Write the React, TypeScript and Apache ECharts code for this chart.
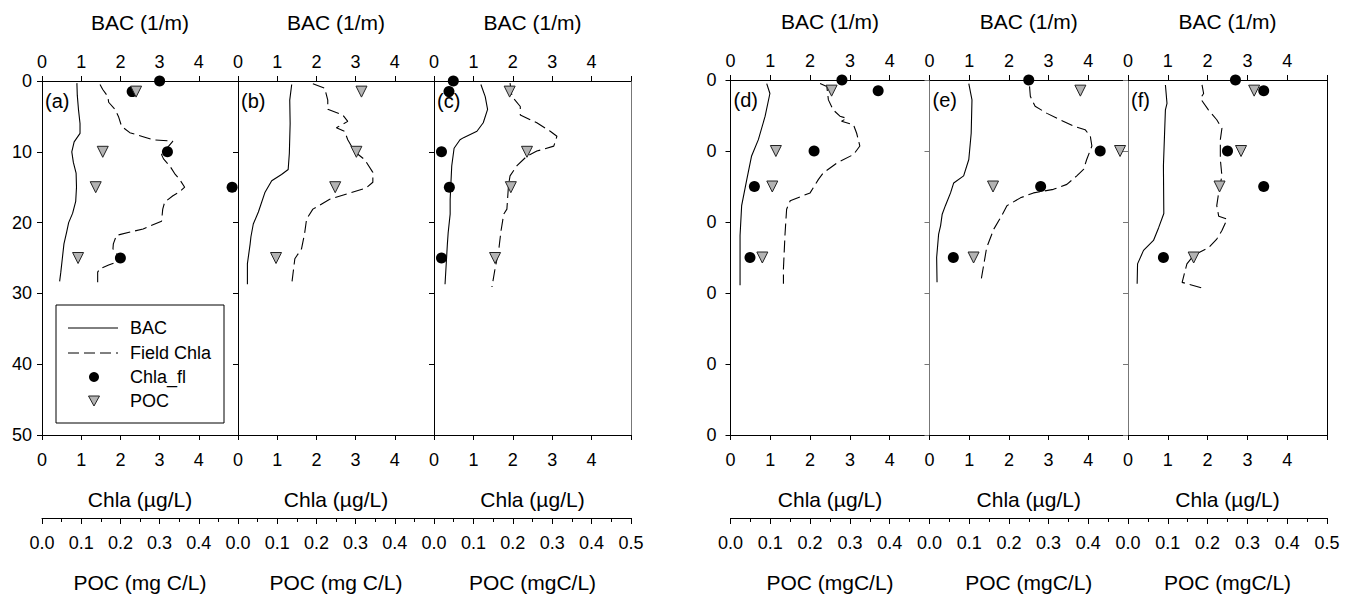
import React, { useEffect, useRef } from 'react';
import * as echarts from 'echarts';

// ---------- tick labels ----------
const chlaTickLabels = ['0', '1', '2', '3', '4', ''];
const pocTickLabels = ['0.0', '0.1', '0.2', '0.3', '0.4', '0.5'];
const depthTickLabels = ['0', '10', '20', '30', '40', '50'];
const panelIds = ['(a)', '(b)', '(c)', '(d)', '(e)', '(f)'];
const legendNames = ['BAC', 'Field Chla', 'Chla_fl', 'POC'];
const topTitle = 'BAC (1/m)';
const chlaTitle = 'Chla (\u00b5g/L)';
const pocTitles = ['POC (mg C/L)', 'POC (mg C/L)', 'POC (mgC/L)', 'POC (mgC/L)', 'POC (mgC/L)', 'POC (mgC/L)'];

// ---------- data: [value, depth (m)] ----------
const bacA = [[0.89,0.3],[0.9,2],[0.93,4],[0.97,6],[0.97,7.4],[0.82,8.6],[0.76,10],[0.8,11.5],[0.87,13],[0.88,15],[0.86,17],[0.78,18.7],[0.68,20],[0.63,21.3],[0.56,23],[0.52,25],[0.48,27],[0.45,28.3]];
const chlaA = [[1.48,0.5],[1.55,1.2],[1.68,2.2],[1.7,3],[1.86,4],[1.95,5],[2.03,6.4],[2.24,7.3],[2.6,7.9],[2.83,8.3],[3.34,8.5],[3.05,10.4],[3.1,11],[3.26,12],[3.4,13.2],[3.51,13.9],[3.64,15],[3.5,15.7],[3.34,16.2],[3.13,17.1],[3.08,18.1],[3.05,19.8],[2.58,20.9],[1.9,21.8],[1.82,23],[1.81,23.7],[2.03,25.3],[1.7,26],[1.48,26.5],[1.42,27],[1.42,28.9]];
const flA = [[3.0,0],[2.3,1.5],[3.2,10],[4.85,15],[2.0,25]];
const pocA = [[0.24,1.5],[0.155,10],[0.137,15],[0.092,25]];

const bacB = [[1.37,0.5],[1.32,2.7],[1.33,6],[1.31,10.2],[1.28,12.5],[1.11,13.2],[0.86,14.1],[0.69,15.7],[0.52,18.5],[0.39,20.2],[0.33,22],[0.31,23],[0.24,25.8],[0.24,28.7]];
const chlaB = [[1.91,0.4],[2.21,1],[2.29,2.7],[2.29,4],[2.67,4.8],[2.8,5.7],[2.51,6.6],[2.72,7.1],[2.8,8.3],[2.98,10],[3.23,11.1],[3.44,12.9],[3.44,14.3],[3.27,15.1],[2.34,16.7],[1.91,18.1],[1.75,19.5],[1.7,21.5],[1.62,23.7],[1.45,25.1],[1.37,28.7]];
const flB: number[][] = [];
const pocB = [[0.315,1.5],[0.302,10],[0.248,15],[0.097,25]];

const bacC = [[1.19,0.5],[1.3,2.2],[1.36,4],[1.25,5.9],[1.09,7.1],[0.75,8],[0.66,8.3],[0.51,9.5],[0.45,12],[0.41,16.7],[0.41,18.8],[0.36,21.4],[0.34,23],[0.28,28.7]];
const chlaC = [[1.93,0.3],[1.98,2.2],[2.19,3.6],[2.19,4.8],[2.61,5.9],[2.95,7.1],[3.12,7.8],[3.04,9.2],[2.61,9.9],[2.36,10.6],[2.1,12],[1.93,13.4],[1.89,14.8],[1.85,18.1],[1.77,18.8],[1.7,21.2],[1.64,24],[1.55,26.5],[1.47,29.1]];
const flC = [[0.49,0],[0.38,1.5],[0.19,10],[0.39,15],[0.19,25]];
const pocC = [[0.192,1.5],[0.236,10],[0.195,15],[0.155,25]];

const bacD = [[0.91,0.5],[0.99,1.9],[0.87,5.1],[0.7,8.4],[0.53,10.7],[0.41,14],[0.28,17.7],[0.24,21.9],[0.24,24.3],[0.24,28.9]];
const chlaD = [[2.25,0.5],[2.42,0.9],[2.46,2.8],[2.58,4.2],[2.75,5.1],[2.92,5.4],[2.79,5.8],[3.09,6.3],[3.17,7.5],[3.25,9.3],[3.09,10.5],[2.67,11.7],[2.33,13.1],[2.21,14],[2.0,15.9],[1.5,17],[1.41,18.2],[1.37,21.7],[1.33,26.6],[1.33,28.7]];
const flD = [[2.8,0],[3.71,1.5],[2.1,10],[0.6,15],[0.49,25]];
const pocD = [[0.254,1.5],[0.114,10],[0.105,15],[0.08,25]];

const bacE = [[0.99,0.5],[1.07,2.8],[1.05,7.5],[0.99,11.2],[0.86,13.5],[0.61,14.5],[0.53,15.9],[0.4,17.7],[0.32,18.9],[0.28,20.5],[0.23,21.7],[0.18,25],[0.19,28.5]];
const chlaE = [[2.52,0.9],[2.54,2.3],[2.66,3.7],[2.96,4.7],[3.29,5.6],[3.63,6.5],[3.92,7],[4.05,7.9],[4.09,9.3],[3.96,11.2],[3.88,12.6],[3.71,13.5],[3.46,14.7],[3.12,15.4],[2.62,15.9],[2.29,16.6],[1.95,17.7],[1.82,19.1],[1.62,21],[1.44,23.6],[1.37,25.9],[1.29,28.5]];
const flE = [[2.5,0],[4.3,10],[2.8,15],[0.6,25]];
const pocE = [[0.38,1.5],[0.48,10],[0.16,15],[0.111,25]];

const bacF = [[0.94,0.7],[0.98,3.3],[0.94,4.2],[0.89,12.1],[0.9,18.8],[0.77,20.8],[0.64,22.6],[0.39,24],[0.24,25.9],[0.23,28.7]];
const chlaF = [[1.86,0.7],[1.9,1.9],[1.82,2.6],[2.02,4.2],[2.23,5.6],[2.36,6.8],[2.32,8.4],[2.32,11.2],[2.36,13.5],[2.28,15.8],[2.23,17.7],[2.28,19.2],[2.49,19.6],[2.36,21.2],[2.23,22.4],[2.03,23.6],[1.65,24.7],[1.48,25.9],[1.36,28.5],[1.86,29.3]];
const flF = [[2.7,0],[3.41,1.5],[2.5,10],[3.41,15],[0.89,25]];
const pocF = [[0.317,1.5],[0.284,10],[0.23,15],[0.165,25]];

const panelData = [
  { bac: bacA, chla: chlaA, fl: flA, poc: pocA },
  { bac: bacB, chla: chlaB, fl: flB, poc: pocB },
  { bac: bacC, chla: chlaC, fl: flC, poc: pocC },
  { bac: bacD, chla: chlaD, fl: flD, poc: pocD },
  { bac: bacE, chla: chlaE, fl: flE, poc: pocE },
  { bac: bacF, chla: chlaF, fl: flF, poc: pocF },
];

// ---------- layout ----------
const layout = [
  { left: 42, top: 81, width: 196, height: 356, yLab: 'full', last: false, edge: '#000', right: '#000' },
  { left: 238, top: 81, width: 196, height: 356, yLab: 'none', last: false, edge: '#000', right: '#000' },
  { left: 434, top: 81, width: 197, height: 356, yLab: 'none', last: true, edge: '#000', right: '#777' },
  { left: 730.5, top: 80, width: 199, height: 357, yLab: 'digit', last: false, edge: '#000', right: '#000' },
  { left: 929.5, top: 80, width: 198.5, height: 357, yLab: 'none', last: false, edge: '#777', right: '#000' },
  { left: 1128, top: 80, width: 199, height: 357, yLab: 'none', last: true, edge: '#777', right: '#000' },
];

const FONT = '"Liberation Sans", Arial, Helvetica, sans-serif';
const TICK_FS = 18;
const TITLE_FS = 21;
const POC_OFFSET = 83;

function buildOption() {
  const grid: any[] = [];
  const xAxis: any[] = [];
  const yAxis: any[] = [];
  const series: any[] = [];
  const graphic: any[] = [];

  layout.forEach((L, i) => {
    grid.push({ left: L.left, top: L.top, width: L.width, height: L.height, show: false });
    const axisBase = {
      gridIndex: i,
      type: 'value',
      splitLine: { show: false },
      nameLocation: 'middle',
      nameTextStyle: { color: '#000', fontSize: TITLE_FS, fontFamily: FONT },
    };
    // top BAC axis
    xAxis.push({
      ...axisBase,
      position: 'top', min: 0, max: 5, interval: 1,
      axisLine: { show: true, onZero: false, lineStyle: { color: '#000', width: 1 } },
      axisTick: { show: true, length: 5, lineStyle: { color: '#000' } },
      axisLabel: { color: '#000', fontSize: TICK_FS, fontFamily: FONT, margin: 10,
        formatter: (v: number) => chlaTickLabels[Math.round(v)] },
      name: topTitle, nameGap: 48,
    });
    // bottom Chla axis
    xAxis.push({
      ...axisBase,
      position: 'bottom', min: 0, max: 5, interval: 1,
      axisLine: { show: true, onZero: false, lineStyle: { color: '#000', width: 1 } },
      axisTick: { show: true, length: 5, lineStyle: { color: '#000' } },
      axisLabel: { color: '#000', fontSize: TICK_FS, fontFamily: FONT, margin: 16,
        formatter: (v: number) => chlaTickLabels[Math.round(v)] },
      name: chlaTitle, nameGap: 54,
    });
    // POC axis
    xAxis.push({
      ...axisBase,
      position: 'bottom', offset: POC_OFFSET, min: 0, max: 0.5, interval: 0.1,
      axisLine: { show: true, onZero: false, lineStyle: { color: '#000', width: 1 } },
      axisTick: { show: true, length: 6, lineStyle: { color: '#000' } },
      minorTick: { show: true, splitNumber: 2, length: 4, lineStyle: { color: '#000' } },
      axisLabel: { color: '#000', fontSize: TICK_FS, fontFamily: FONT, margin: 16,
        formatter: (v: number) => {
          const k = Math.round(v * 10);
          if (k === 5 && !L.last) return '';
          return pocTickLabels[k];
        } },
      name: pocTitles[i], nameGap: 54,
    });
    // depth axis (left)
    yAxis.push({
      gridIndex: i, type: 'value', inverse: true, min: 0, max: 50, interval: 10,
      position: 'left',
      splitLine: { show: false },
      axisLine: { show: true, onZero: false, lineStyle: { color: L.edge, width: 1 } },
      axisTick: { show: true, length: 5, lineStyle: { color: L.edge } },
      axisLabel: {
        show: L.yLab !== 'none', color: '#000', fontSize: TICK_FS, fontFamily: FONT,
        margin: L.yLab === 'digit' ? 14 : 10,
        formatter: (v: number) => {
          const s = depthTickLabels[Math.round(v / 10)];
          return L.yLab === 'digit' ? s.slice(-1) : s;
        },
      },
    });
    if (L.last) {
      yAxis.push({
        gridIndex: i, type: 'value', inverse: true, min: 0, max: 50, interval: 10,
        position: 'right',
        splitLine: { show: false },
        axisLine: { show: true, onZero: false, lineStyle: { color: L.right, width: 1 } },
        axisTick: { show: false }, axisLabel: { show: false },
      });
    }
  });

  // map grid index -> left y axis index
  const yIdx: number[] = [];
  let c = 0;
  layout.forEach((L) => { yIdx.push(c); c += L.last ? 2 : 1; });

  panelData.forEach((P, i) => {
    series.push({
      name: legendNames[0], type: 'line', xAxisIndex: 3 * i, yAxisIndex: yIdx[i],
      data: P.bac, showSymbol: false, symbol: 'none', silent: true,
      lineStyle: { color: '#000', width: 1.1 }, z: 2,
    });
    series.push({
      name: legendNames[1], type: 'line', xAxisIndex: 3 * i + 1, yAxisIndex: yIdx[i],
      data: P.chla, showSymbol: false, symbol: 'none', silent: true,
      lineStyle: { color: '#000', width: 1.1, type: [12, 5] }, z: 2,
    });
    series.push({
      name: legendNames[2], type: 'scatter', xAxisIndex: 3 * i + 1, yAxisIndex: yIdx[i],
      data: P.fl, symbol: 'circle', symbolSize: 11, silent: true,
      itemStyle: { color: '#000', opacity: 1 }, z: 3,
    });
    series.push({
      name: legendNames[3], type: 'scatter', xAxisIndex: 3 * i + 2, yAxisIndex: yIdx[i],
      data: P.poc, symbol: 'triangle', symbolRotate: 180, symbolSize: 11, silent: true,
      itemStyle: { color: '#b3b3b3', borderColor: '#222', borderWidth: 1, opacity: 1 }, z: 4,
    });
    const L = layout[i];
    graphic.push({
      type: 'text', x: L.left + 3, y: L.top + 20, z: 100,
      style: { text: panelIds[i], fill: '#000', fontSize: 20, fontFamily: FONT, verticalAlign: 'middle', align: 'left' },
    });
  });

  // legend box in panel (a)
  const lx = 56, ly = 305, lw = 168, lh = 118;
  const rows = [328, 353, 377, 401];
  graphic.push({ type: 'rect', z: 100, shape: { x: lx, y: ly, width: lw, height: lh },
    style: { fill: '#fff', stroke: '#000', lineWidth: 1 } });
  graphic.push({ type: 'line', z: 101, shape: { x1: 68, y1: rows[0], x2: 118, y2: rows[0] },
    style: { stroke: '#000', lineWidth: 1 } });
  graphic.push({ type: 'line', z: 101, shape: { x1: 68, y1: rows[1], x2: 118, y2: rows[1] },
    style: { stroke: '#000', lineWidth: 1, lineDash: [11, 5] } });
  graphic.push({ type: 'circle', z: 101, shape: { cx: 94, cy: rows[2], r: 5 }, style: { fill: '#000' } });
  graphic.push({ type: 'polygon', z: 101, shape: { points: [[88.5, rows[3] - 5], [99.5, rows[3] - 5], [94, rows[3] + 5]] },
    style: { fill: '#b3b3b3', stroke: '#222', lineWidth: 1 } });
  legendNames.forEach((n, k) => {
    graphic.push({ type: 'text', z: 101, x: 130, y: rows[k],
      style: { text: n, fill: '#000', fontSize: 18, fontFamily: FONT, verticalAlign: 'middle', align: 'left' } });
  });

  return {
    animation: false,
    backgroundColor: '#fff',
    textStyle: { fontFamily: FONT },
    grid, xAxis, yAxis, series, graphic,
  };
}

export default function App() {
  const ref = useRef<HTMLDivElement>(null);
  useEffect(() => {
    if (!ref.current) return;
    const chart = echarts.init(ref.current, undefined, { renderer: 'svg' });
    chart.setOption(buildOption() as any);
    return () => chart.dispose();
  }, []);
  return (
    <div
      ref={ref}
      style={{ position: 'fixed', left: 0, top: 0, width: 1350, height: 598, background: '#fff' }}
    />
  );
}
